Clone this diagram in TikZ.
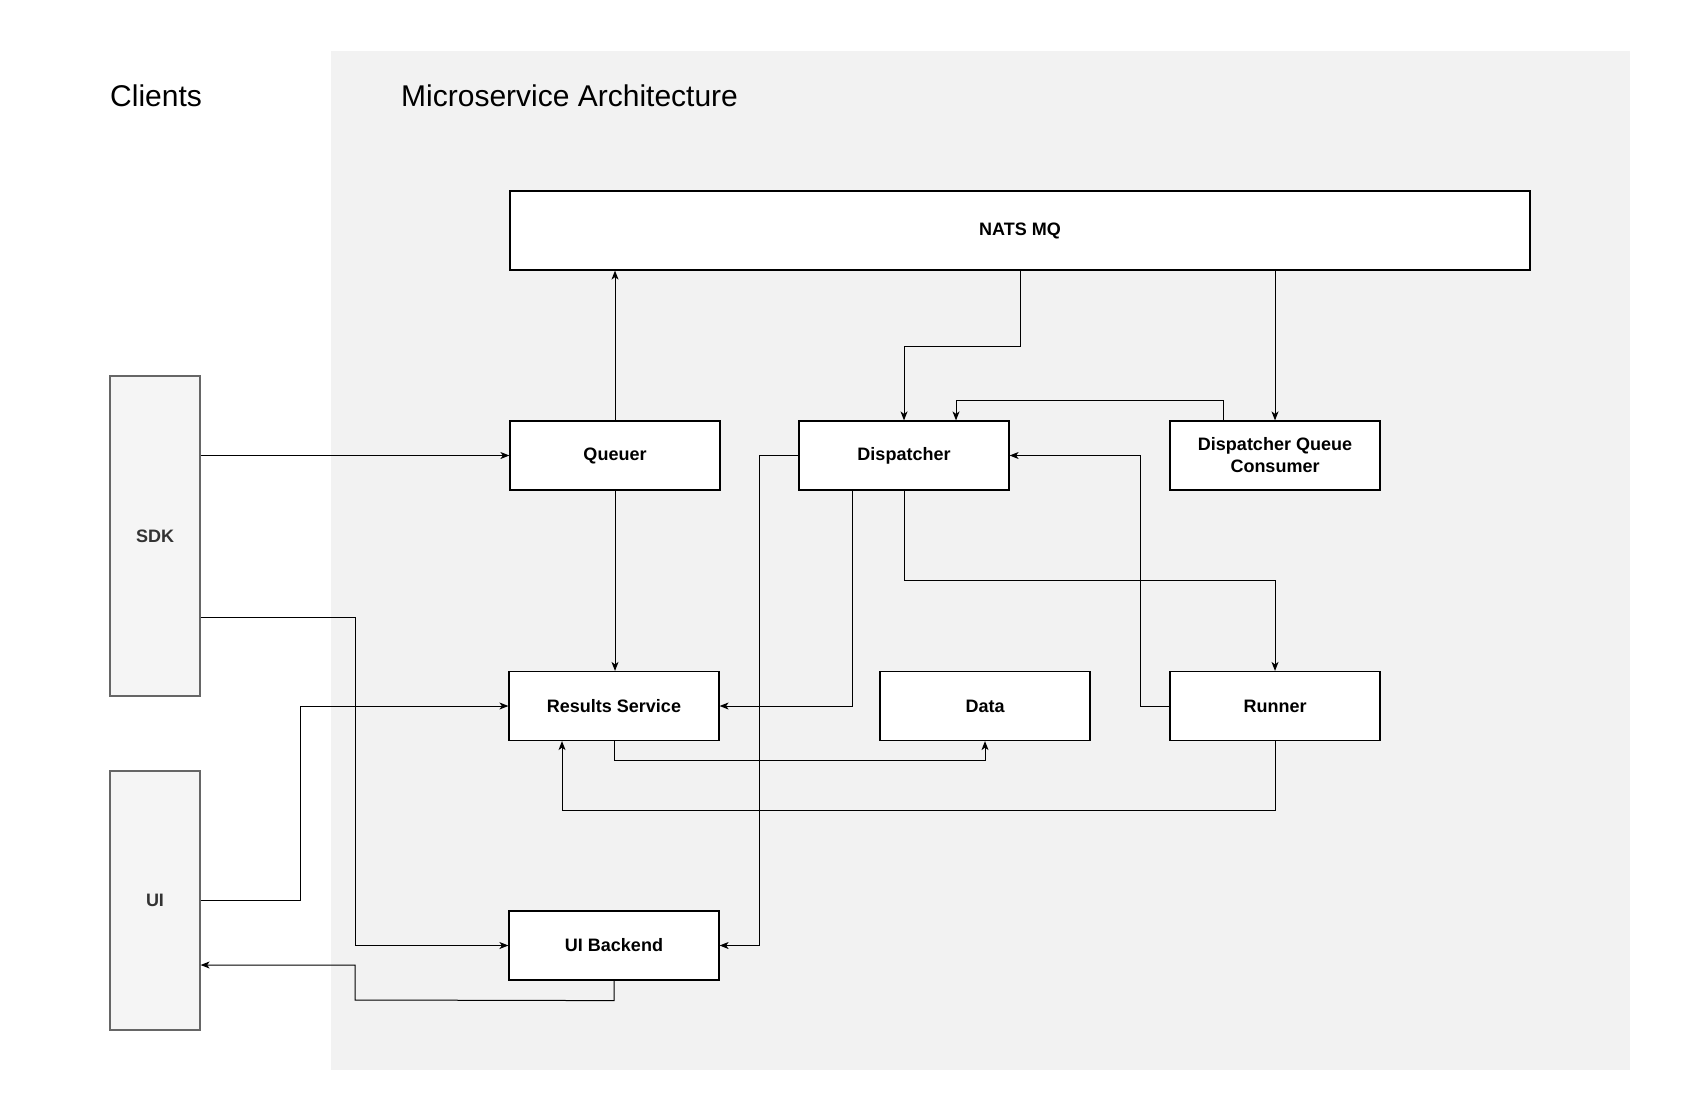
\documentclass[tikz,border=0pt]{standalone}
\usepackage{fontspec}
\setmainfont{Liberation Sans}
\usetikzlibrary{arrows.meta}
\definecolor{panel}{HTML}{F2F2F2}
\definecolor{clientfill}{HTML}{F5F5F5}
\definecolor{clientline}{HTML}{666666}
\definecolor{clienttext}{HTML}{333333}
\tikzset{
  svcbox/.style={draw=black, fill=white, line width=1.2pt, inner sep=0pt,
    minimum width=210pt, minimum height=69pt, align=center,
    font=\fontsize{18}{22}\selectfont\bfseries},
  clientbox/.style={draw=clientline, fill=clientfill, line width=1.2pt, inner sep=0pt,
    minimum width=90pt, text=clienttext, font=\fontsize{18}{22}\selectfont\bfseries},
  titletext/.style={anchor=west, inner sep=0pt, font=\fontsize{30}{36}\selectfont},
  conn/.style={draw=black, line width=1pt, -{Stealth[length=9pt,width=7pt,inset=2.5pt]}},
}
\begin{document}
\begin{tikzpicture}[x=1pt,y=-1pt]
\useasboundingbox (0,0) rectangle (1700,1100);
\fill[white] (0,0) rectangle (1700,1100);
\fill[panel] (331,51) rectangle (1630,1070);

\node[titletext] (tclients) at (110,96) {Clients};
\node[titletext] (tmicro) at (401,96) {Microservice Architecture};

\node[svcbox, minimum width=1020pt, minimum height=79pt] (nats) at (1020,230.5) {NATS MQ};
\node[svcbox] (q) at (615,455.5) {Queuer};
\node[svcbox] (d) at (904,455.5) {Dispatcher};
\node[svcbox] (dqc) at (1275,455.5) {Dispatcher Queue\\Consumer};
\node[svcbox] (rs) at (614,706) {Results Service};
\node[svcbox] (data) at (985,706) {Data};
\node[svcbox] (run) at (1275,706) {Runner};
\node[svcbox] (uib) at (614,945.5) {UI Backend};
\node[clientbox, minimum height=320pt] (sdk) at (155,536) {SDK};
\node[clientbox, minimum height=259pt] (ui) at (155,900.5) {UI};

% SDK -> Queuer
\draw[conn] (sdk.east |- q.west) -- (q.west);
% Queuer -> NATS
\draw[conn] (q.north) -- (q.north |- nats.south);
% NATS -> Dispatcher
\draw[conn] (nats.south) -- (nats.south |- 0,346) -| (d.north);
% NATS -> DQC
\draw[conn] (dqc.north |- nats.south) -- (dqc.north);
% DQC -> Dispatcher
\draw[conn] ([xshift=-52pt]dqc.north) -- ++(0,-20) -| ([xshift=52pt]d.north);
% Dispatcher -> UI Backend
\draw[conn] (d.west) -- (d.west -| 759,0) |- (uib.east);
% Dispatcher -> Results Service
\draw[conn] ([xshift=-52pt]d.south) |- (rs.east);
% Dispatcher -> Runner
\draw[conn] (d.south) -- ++(0,90) -| (run.north);
% Runner -> Dispatcher
\draw[conn] (run.west) -- (run.west -| 1140,0) |- (d.east);
% Queuer -> Results Service
\draw[conn] (q.south) -- (q.south |- rs.north);
% Results Service -> Data
\draw[conn] (rs.south) -- ++(0,19) -| (data.south);
% Runner -> Results Service
\draw[conn] (run.south) -- ++(0,69) -| ([xshift=-52pt]rs.south);
% UI -> Results Service
\draw[conn] (ui.east) -- (ui.east -| 300,0) |- (rs.west);
% SDK -> UI Backend
\draw[conn] ([yshift=-81pt]sdk.east) -- (355,617) |- (uib.west);
% UI Backend -> UI
\draw[conn] (uib.south) -- ++(0,20) -- (355,1000) |- ([yshift=-64.5pt]ui.east);
\end{tikzpicture}
\end{document}
